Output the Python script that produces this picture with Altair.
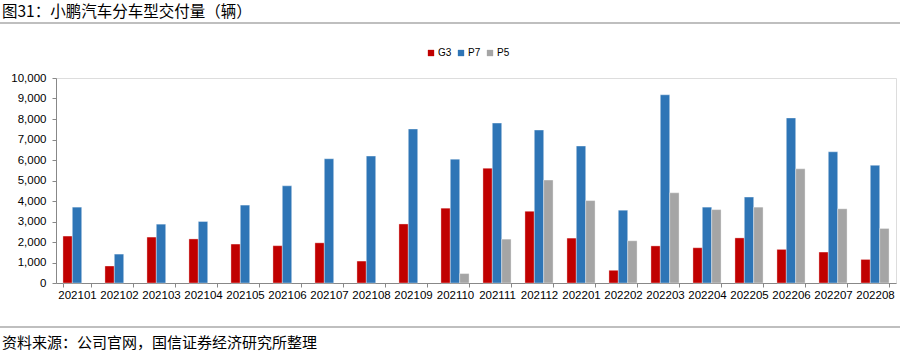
import altair as alt
import pandas as pd

months = ["202101","202102","202103","202104","202105","202106","202107","202108","202109","202110",
          "202111","202112","202201","202202","202203","202204","202205","202206","202207","202208"]
g3 = [2290, 830, 2240, 2150, 1900, 1820, 1960, 1070, 2880, 3650,
      5600, 3500, 2190, 620, 1810, 1720, 2200, 1640, 1510, 1150]
p7 = [3700, 1410, 2870, 3000, 3800, 4740, 6060, 6190, 7510, 6040,
      7800, 7460, 6680, 3550, 9180, 3700, 4190, 8050, 6400, 5740]
p5 = [None, None, None, None, None, None, None, None, None, 460,
      2140, 5020, 4020, 2060, 4400, 3580, 3700, 5570, 3620, 2660]
series = ["G3", "P7", "P5"]
colors = ["#C00000", "#2E75B6", "#A5A5A5"]
title_text = "图31：小鹏汽车分车型交付量（辆）"
source_text = "资料来源：公司官网，国信证券经济研究所整理"

rows = []
for i, m in enumerate(months):
    for s, vals in zip(series, [g3, p7, p5]):
        if vals[i] is not None:
            rows.append({"month": m, "model": s, "value": vals[i]})
df = pd.DataFrame(rows)

font = "Noto Sans CJK SC"

bars = alt.Chart(df).mark_bar(stroke="white", strokeWidth=0.6, strokeOpacity=0.6).encode(
    x=alt.X("month:N", sort=months, title=None,
            scale=alt.Scale(paddingInner=0.33, paddingOuter=0.165),
            axis=alt.Axis(labelAngle=0, labelFont="Liberation Sans", labelFontSize=11.5,
                          labelColor="#000000", tickBand="extent", tickSize=4,
                          tickColor="#888888", domainColor="#888888", labelPadding=2)),
    xOffset=alt.XOffset("model:N", sort=series, scale=alt.Scale(domain=series, paddingInner=0, paddingOuter=0)),
    y=alt.Y("value:Q", title=None,
            scale=alt.Scale(domain=[0, 10000], nice=False),
            axis=alt.Axis(values=list(range(0, 10001, 1000)), format=",d", grid=False,
                          labelFont="Liberation Sans", labelFontSize=11.5, labelColor="#000000",
                          tickSize=4, tickColor="#888888", domainColor="#888888", labelPadding=6)),
    color=alt.Color("model:N", sort=series,
                    scale=alt.Scale(domain=series, range=colors),
                    legend=alt.Legend(title=None, orient="none", direction="horizontal",
                                      legendX=370, legendY=-30, symbolType="square",
                                      symbolSize=40, labelFont="Liberation Sans", labelFontSize=10,
                                      columnPadding=4, symbolStrokeWidth=0, labelOffset=2)),
)

title = alt.Chart(pd.DataFrame({"t": [title_text]})).mark_text(
    align="left", baseline="middle", font=font, fontSize=15.5, color="#000000"
).encode(text="t:N", x=alt.value(-54), y=alt.value(-66))

source = alt.Chart(pd.DataFrame({"t": [source_text]})).mark_text(
    align="left", baseline="middle", font=font, fontSize=15, color="#000000"
).encode(text="t:N", x=alt.value(-54), y=alt.value(265))

line_top = alt.Chart(pd.DataFrame({"a": [0]})).mark_rule(color="#808080", strokeWidth=1.2).encode(
    x=alt.value(-56), x2=alt.value(844), y=alt.value(-55))
line_bot = alt.Chart(pd.DataFrame({"a": [0]})).mark_rule(color="#808080", strokeWidth=1.2).encode(
    x=alt.value(-56), x2=alt.value(844), y=alt.value(249))

chart = alt.layer(bars, title, source, line_top, line_bot).properties(
    width=840, height=205,
    autosize=alt.AutoSizeParams(type="none"),
    padding={"left": 56, "top": 78, "right": 4, "bottom": 71},
).configure_view(stroke=None).configure(background="white")

chart.save("out.html", embed_options={"renderer": "svg", "actions": False})
